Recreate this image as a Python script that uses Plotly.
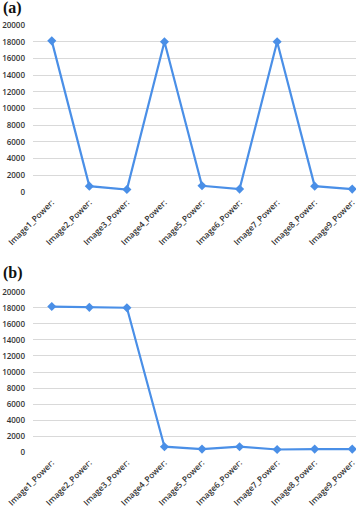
import plotly.graph_objects as go

categories = ["Image1_Power:", "Image2_Power:", "Image3_Power:", "Image4_Power:",
              "Image5_Power:", "Image6_Power:", "Image7_Power:", "Image8_Power:",
              "Image9_Power:"]
power_a = [18100, 700, 300, 18000, 750, 350, 18000, 700, 350]
power_b = [18150, 18050, 18000, 700, 400, 700, 350, 400, 400]
y_ticks = [0, 2000, 4000, 6000, 8000, 10000, 12000, 14000, 16000, 18000, 20000]
y_tick_text = ["0", "2000", "4000", "6000", "8000", "10000", "12000", "14000",
               "16000", "18000", "20000"]
panel_labels = ["(a)", "(b)"]

W, H = 356, 508
color = "#4a8fe7"

fig = go.Figure()
fig.add_trace(go.Scatter(x=categories, y=power_a, mode="lines+markers",
                         line=dict(color=color, width=2.2),
                         marker=dict(symbol="diamond", size=7, color=color),
                         xaxis="x", yaxis="y", showlegend=False, cliponaxis=False))
fig.add_trace(go.Scatter(x=categories, y=power_b, mode="lines+markers",
                         line=dict(color=color, width=2.2),
                         marker=dict(symbol="diamond", size=7, color=color),
                         xaxis="x2", yaxis="y2", showlegend=False, cliponaxis=False))

tickfont = dict(family="Open Sans, Liberation Sans, Arial", size=8, color="#333333",
                weight=600)
xtickfont = dict(family="Open Sans, Liberation Sans, Arial", size=8.3,
                 color="#333333", weight=600)
xdom = [33 / W, 1.0]
xcommon = dict(domain=xdom, range=[-0.5, 8.1], tickangle=-45, showgrid=False,
               showline=False, ticks="", tickfont=xtickfont, zeroline=False,
               type="category", automargin=False, ticklabelstandoff=3)
ycommon = dict(range=[0, 20000], tickvals=y_ticks, ticktext=y_tick_text,
               showgrid=True, gridcolor="#d9d9d9", gridwidth=1, showline=False,
               ticks="", tickfont=tickfont, zeroline=False, ticklabelstandoff=7,
               automargin=False)

fig.update_layout(
    width=W, height=H,
    margin=dict(l=0, r=0, t=0, b=0, autoexpand=False),
    paper_bgcolor="white", plot_bgcolor="white",
    xaxis=dict(**xcommon, anchor="y"),
    yaxis=dict(**ycommon, domain=[1 - 192 / H, 1 - 25 / H], anchor="x"),
    xaxis2=dict(**xcommon, anchor="y2"),
    yaxis2=dict(**ycommon, domain=[1 - 452.3 / H, 1 - 291.7 / H], anchor="x2"),
)

for lab, ypix in zip(panel_labels, [8.5, 273]):
    fig.add_annotation(text="<b>" + lab + "</b>", xref="paper", yref="paper",
                       x=1 / W, y=1 - ypix / H, xanchor="left", yanchor="middle",
                       showarrow=False,
                       font=dict(family="Liberation Serif, DejaVu Serif", size=16,
                                 color="#111111"))

fig.write_html("out.html", config={"displayModeBar": False},
               post_script="document.body.style.margin='0';document.body.style.overflow='hidden';")
